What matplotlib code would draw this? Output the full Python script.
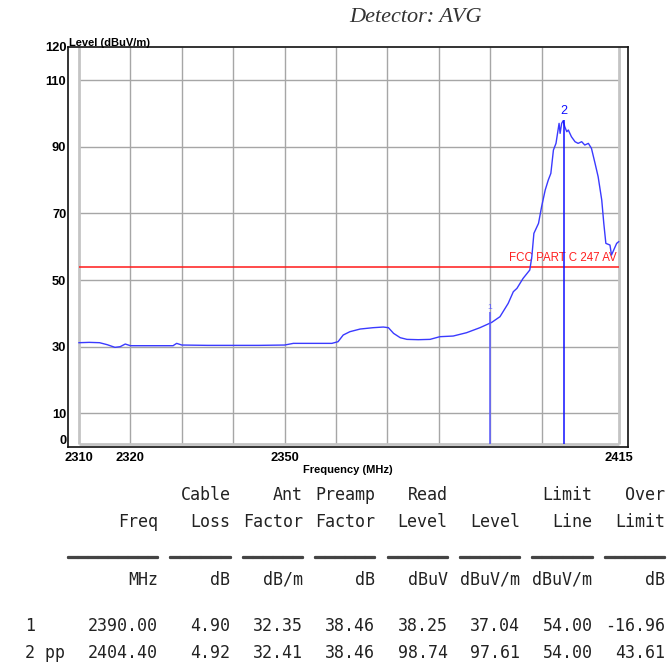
import matplotlib
matplotlib.use('Agg')
import matplotlib.pyplot as plt
import matplotlib.patheffects as pe

# ---------------- data ----------------
freq = [2310.0, 2312.0, 2314.0, 2315.5, 2317.0, 2318.0, 2319.0, 2320.0, 2324.0, 2328.3,
        2329.0, 2330.0, 2335.0, 2340.0, 2345.0, 2350.0, 2351.7, 2355.0, 2359.2, 2360.4,
        2361.4, 2362.7, 2364.7, 2367.2, 2369.2, 2370.2, 2371.2, 2372.5, 2373.8, 2376.0,
        2378.3, 2380.2, 2382.8, 2385.4, 2388.0, 2390.3, 2391.9, 2393.5, 2394.5, 2395.2,
        2396.4, 2397.7, 2398.1, 2398.5, 2399.4, 2400.0, 2400.7, 2401.3, 2401.8, 2402.3,
        2402.8, 2403.1, 2403.4, 2403.6, 2403.9, 2404.2, 2404.5, 2404.9, 2405.2, 2405.8,
        2406.5, 2407.1, 2407.8, 2408.4, 2409.1, 2409.7, 2410.4, 2411.0, 2411.7, 2412.1,
        2412.5, 2413.3, 2413.6, 2414.6, 2415.0]
level = [31.2, 31.3, 31.2, 30.6, 29.8, 30.0, 30.8, 30.3, 30.3, 30.3,
         31.0, 30.5, 30.4, 30.4, 30.4, 30.5, 31.0, 31.0, 31.0, 31.5,
         33.5, 34.5, 35.3, 35.7, 35.9, 35.7, 34.0, 32.7, 32.2, 32.1,
         32.2, 33.0, 33.2, 34.2, 35.7, 37.3, 39.0, 43.0, 46.5, 47.5,
         50.5, 53.0, 57.0, 64.0, 67.0, 72.0, 77.0, 80.0, 82.0, 89.0,
         91.0, 94.0, 97.0, 94.0, 97.0, 97.8, 96.0, 94.5, 95.0, 93.0,
         91.5, 91.0, 91.5, 90.5, 91.0, 89.5, 85.0, 81.0, 74.0, 67.0,
         61.0, 60.5, 57.5, 61.0, 61.5]

limit_level = 54.0
limit_label = "FCC PART C 247 AV"

marker_ids = ["1", "2"]
marker_freq = [2390.00, 2404.40]
marker_top = [40.5, 98.0]

yticks = [0, 10, 30, 50, 70, 90, 110, 120]
xticks = [2310, 2320, 2350, 2415]
grid_x = [2320, 2330, 2340, 2350, 2360, 2370, 2380, 2390, 2400]
grid_y = [10, 30, 50, 70, 90, 110]

title = "Detector: AVG"
ylabel = "Level (dBuV/m)"
xlabel = "Frequency (MHz)"

hdr1 = ["", "Cable", "Ant", "Preamp", "Read", "", "Limit", "Over"]
hdr2 = ["Freq", "Loss", "Factor", "Factor", "Level", "Level", "Line", "Limit"]
units = ["MHz", "dB", "dB/m", "dB", "dBuV", "dBuV/m", "dBuV/m", "dB"]
row_labels = ["1", "2 pp"]
row_freq = ["2390.00", "2404.40"]
cable_loss = ["4.90", "4.92"]
ant_factor = ["32.35", "32.41"]
preamp_factor = ["38.46", "38.46"]
read_level = ["38.25", "98.74"]
meas_level = ["37.04", "97.61"]
limit_line = ["54.00", "54.00"]
over_limit = ["-16.96", "43.61"]

# ---------------- figure ----------------
W, H = 669, 670
fig = plt.figure(figsize=(W / 100, H / 100), dpi=100)

def fx(px):
    return px / W

def fy(py):
    return 1 - py / H

ax = fig.add_axes([fx(68), fy(446.7), fx(560), 400 / H])
px_per_mhz = 5.14
x0 = 2310 - 11 / px_per_mhz
ax.set_xlim(x0, x0 + 560 / px_per_mhz)
ax.set_ylim(0, 120)

grid_col = '#a6a6a6'
ax.hlines(grid_y, 2310, 2415, colors=grid_col, lw=1, zorder=1)
ax.vlines(grid_x, 0.9, 120, colors=grid_col, lw=1, zorder=1)
ax.vlines([2310, 2415], 0.9, 120, colors='#c4c4c4', lw=2, zorder=1)
ax.hlines([0.9], 2310, 2415, colors='#c4c4c4', lw=2, zorder=1)

ax.hlines([limit_level], 2310, 2415, colors='#ff1a1a', lw=1.1, zorder=3)
ax.text(2414.6, limit_level + 0.8, limit_label, color='#ff2020', ha='right', va='bottom',
        fontsize=8.3, family=['Liberation Sans Narrow', 'Liberation Sans'], zorder=4)

ax.plot(freq, level, color='#3a3aff', lw=1.0, zorder=4)

mcols = ['#5a5aff', '#1010ff']
for mid, mf, mt, mc in zip(marker_ids, marker_freq, marker_top, mcols):
    ax.vlines([mf], 0.9, mt, colors=mc, lw=1.1, zorder=5)
    ax.text(mf, mt + (0.3 if mid == "1" else 0.8), mid, color=mc, ha='center', va='bottom',
            fontsize=(6 if mid == "1" else 9), family='Liberation Sans', zorder=5)

for s in ax.spines.values():
    s.set_color('#111111')
    s.set_linewidth(1.2)

tick_font = dict(family=['Liberation Sans'], fontweight='bold', fontsize=9.3)
ax.set_yticks(yticks)
ax.set_yticklabels([str(v) for v in yticks], **tick_font)
ax.set_xticks(xticks)
ax.set_xticklabels([str(v) for v in xticks], **tick_font)
ax.tick_params(axis='both', length=0)
ax.tick_params(axis='y', pad=1.2)
ax.tick_params(axis='x', pad=3.5)
for lab in ax.get_yticklabels():
    if lab.get_text() == "0":
        lab.set_va('bottom')

fig.text(fx(69), fy(47.5), ylabel, ha='left', va='bottom', fontsize=8, fontweight='bold',
         family=['Liberation Sans Narrow', 'Liberation Sans'])
fig.text(fx(348), fy(470), xlabel, ha='center', va='center', fontsize=8, fontweight='bold',
         family=['Liberation Sans Narrow', 'Liberation Sans'])
fig.text(fx(416), fy(17), title, ha='center', va='center', fontsize=16, style='italic',
         family=['Liberation Serif', 'DejaVu Serif'], color='#333333')

# ---------------- table ----------------
mono = dict(family=['DejaVu Sans Mono'], fontsize=12, color='#222222', va='baseline')
col_right = [157 + k * 72.4 for k in range(8)]

def put_row(cells, ypx, **kw):
    for c, xr in zip(cells, col_right):
        if c:
            opts = dict(mono)
            opts.update(kw)
            fig.text(fx(xr + 1), fy(ypx), c, ha='right', **opts)

put_row(hdr1, 500)
put_row(hdr2, 527)
unders = ["_" * 9] + ["_" * 6] * 7
put_row(unders, 554, color='#444444',
        path_effects=[pe.withStroke(linewidth=1.6, foreground='#444444', capstyle='butt')])
put_row(units, 585)

rows = list(zip(row_freq, cable_loss, ant_factor, preamp_factor, read_level,
                meas_level, limit_line, over_limit))
for lab, vals, ypx in zip(row_labels, rows, [631, 658.3]):
    fig.text(fx(25), fy(ypx), lab, ha='left', **mono)
    put_row(list(vals), ypx)

fig.savefig('out.png', dpi=100)
